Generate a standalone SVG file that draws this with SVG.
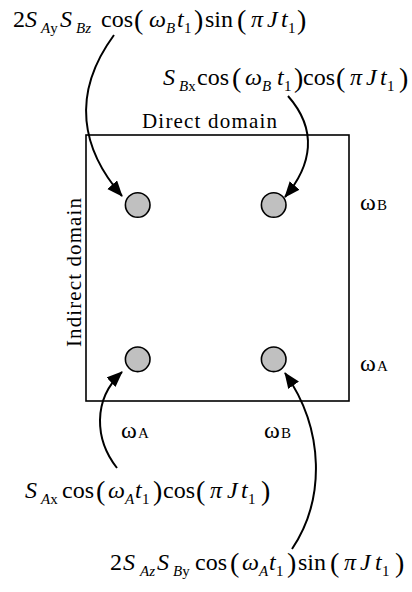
<svg xmlns="http://www.w3.org/2000/svg" width="412" height="592" viewBox="0 0 412 592" font-family="Liberation Serif, Times New Roman, DejaVu Serif, serif">
<style>
text{font-family:'Liberation Serif','Times New Roman','DejaVu Serif',serif;fill:#000}
.f{font-size:24px}
.i{font-style:italic}
.s{font-size:15px}
.p{font-size:28px}
.w{font-size:24px}
.ws{font-size:15px}
.lab{font-size:21px}
.pk{fill:#c0c0c0;stroke:#000;stroke-width:1.6}
.conn path{fill:none;stroke:#000;stroke-width:2}
</style>
<defs>
<marker id="ah" markerUnits="userSpaceOnUse" markerWidth="18" markerHeight="14" refX="15" refY="6.5" orient="auto">
<path d="M0,0 L16,6.5 L0,13 z" fill="#000"/>
</marker>
</defs>
<rect id="spectrum" x="86" y="135" width="263" height="266" fill="none" stroke="#000" stroke-width="1.6"/>
<g id="axis-direct"><text class="lab" x="209.5" y="128" text-anchor="middle" textLength="135">Direct domain</text></g>
<g id="axis-indirect"><text class="lab" transform="translate(81,272.5) rotate(-90)" x="0" y="0" text-anchor="middle" textLength="149">Indirect domain</text></g>
<g id="peak-AB"><circle class="pk" cx="137.7" cy="205" r="12.3"/></g>
<g id="peak-BB"><circle class="pk" cx="273.7" cy="205" r="12.3"/></g>
<g id="peak-AA"><circle class="pk" cx="137.7" cy="359.3" r="12.3"/></g>
<g id="peak-BA"><circle class="pk" cx="273.7" cy="359.3" r="12.3"/></g>
<g id="label-wB-right"><text y="210"><tspan class="w" x="360">ω</tspan><tspan class="ws" x="377">B</tspan></text></g>
<g id="label-wA-right"><text y="371"><tspan class="w" x="360">ω</tspan><tspan class="ws" x="377">A</tspan></text></g>
<g id="label-wA-bottom"><text y="438"><tspan class="w" x="121">ω</tspan><tspan class="ws" x="138">A</tspan></text></g>
<g id="label-wB-bottom"><text y="438"><tspan class="w" x="264">ω</tspan><tspan class="ws" x="281">B</tspan></text></g>
<g id="formula-1"><text class="f">
<tspan x="13" y="27">2</tspan><tspan class="i" x="25" y="27">S</tspan><tspan class="s i" x="41" y="33">A</tspan><tspan class="s">y</tspan><tspan class="i" x="60" y="27">S</tspan><tspan class="s i" x="76" y="33">Bz</tspan><tspan x="101" y="27">cos</tspan><tspan class="p" x="134" y="29">(</tspan><tspan class="i" x="149" y="27">ω</tspan><tspan class="s i" x="166" y="33">B</tspan><tspan class="i" x="177" y="27">t</tspan><tspan class="s" x="184" y="33">1</tspan><tspan class="p" x="194" y="29">)</tspan><tspan x="205" y="27">sin</tspan><tspan class="p" x="237" y="29">(</tspan><tspan class="i" x="251" y="27">π</tspan><tspan class="i" x="267" y="27">J</tspan><tspan class="i" x="281" y="27">t</tspan><tspan class="s" x="288" y="33">1</tspan><tspan class="p" x="297" y="29">)</tspan>
</text></g>
<g id="formula-2"><text class="f">
<tspan class="i" x="163" y="85">S</tspan><tspan class="s i" x="179" y="91">B</tspan><tspan class="s">x</tspan><tspan x="197" y="85">cos</tspan><tspan class="p" x="232" y="87">(</tspan><tspan class="i" x="245" y="85">ω</tspan><tspan class="s i" x="262" y="91">B</tspan><tspan class="i" x="277" y="85">t</tspan><tspan class="s" x="284" y="91">1</tspan><tspan class="p" x="294" y="87">)</tspan><tspan x="303" y="85">cos</tspan><tspan class="p" x="336" y="87">(</tspan><tspan class="i" x="350" y="85">π</tspan><tspan class="i" x="366" y="85">J</tspan><tspan class="i" x="380" y="85">t</tspan><tspan class="s" x="387" y="91">1</tspan><tspan class="p" x="399" y="87">)</tspan>
</text></g>
<g id="formula-3"><text class="f">
<tspan class="i" x="25" y="498">S</tspan><tspan class="s i" x="41" y="504">A</tspan><tspan class="s">x</tspan><tspan x="62" y="498">cos</tspan><tspan class="p" x="96" y="500">(</tspan><tspan class="i" x="108" y="498">ω</tspan><tspan class="s i" x="125" y="504">A</tspan><tspan class="i" x="135" y="498">t</tspan><tspan class="s" x="142" y="504">1</tspan><tspan class="p" x="153" y="500">)</tspan><tspan x="163" y="498">cos</tspan><tspan class="p" x="196" y="500">(</tspan><tspan class="i" x="210" y="498">π</tspan><tspan class="i" x="227" y="498">J</tspan><tspan class="i" x="241" y="498">t</tspan><tspan class="s" x="248" y="504">1</tspan><tspan class="p" x="261" y="500">)</tspan>
</text></g>
<g id="formula-4"><text class="f">
<tspan x="110" y="570">2</tspan><tspan class="i" x="123" y="570">S</tspan><tspan class="s i" x="140" y="576">Az</tspan><tspan class="i" x="157" y="570">S</tspan><tspan class="s i" x="173" y="576">B</tspan><tspan class="s">y</tspan><tspan x="195" y="570">cos</tspan><tspan class="p" x="230" y="572">(</tspan><tspan class="i" x="242" y="570">ω</tspan><tspan class="s i" x="259" y="576">A</tspan><tspan class="i" x="269" y="570">t</tspan><tspan class="s" x="276" y="576">1</tspan><tspan class="p" x="287" y="572">)</tspan><tspan x="298" y="570">sin</tspan><tspan class="p" x="330" y="572">(</tspan><tspan class="i" x="344" y="570">π</tspan><tspan class="i" x="360" y="570">J</tspan><tspan class="i" x="375" y="570">t</tspan><tspan class="s" x="382" y="576">1</tspan><tspan class="p" x="395" y="572">)</tspan>
</text></g>
<g id="connectors" class="conn">
<path d="M114,35 C70,95 82,150 122,196" marker-end="url(#ah)"/>
<path d="M288,96 C318,130 312,165 285,197" marker-end="url(#ah)"/>
<path d="M117,468 C95,440 92,400 122,372" marker-end="url(#ah)"/>
<path d="M292,549 C325,500 325,430 285,373" marker-end="url(#ah)"/>
</g>
</svg>
